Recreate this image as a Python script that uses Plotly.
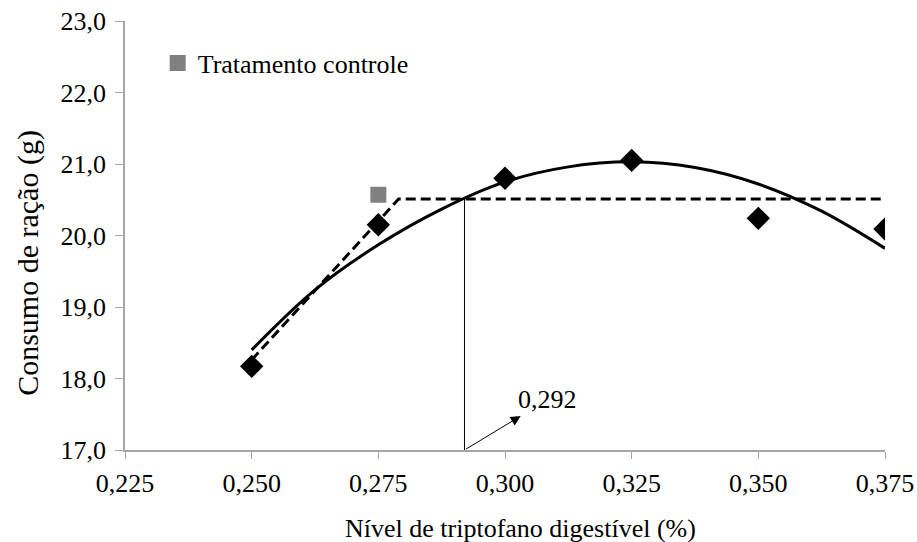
import plotly.graph_objects as go

# Observed means
x_obs = [0.250, 0.275, 0.300, 0.325, 0.350, 0.375]
y_obs = [18.17, 20.15, 20.80, 21.05, 20.24, 20.09]

# Control treatment
x_ctrl = [0.275]
y_ctrl = [20.57]

# Quadratic fit curve
x_quad = [0.250, 0.2625, 0.275, 0.2875, 0.300, 0.3125, 0.325, 0.3375, 0.350, 0.3625, 0.375]
y_quad = [18.40, 19.24, 19.87, 20.37, 20.75, 20.96, 21.03, 20.95, 20.72, 20.34, 19.82]

# Linear-plateau model
x_lrp = [0.250, 0.279, 0.375]
y_lrp = [18.26, 20.51, 20.51]

# Break point
x_break = 0.292
y_plateau = 20.51
break_label = "0,292"

x_ticks = [0.225, 0.250, 0.275, 0.300, 0.325, 0.350, 0.375]
x_ticklabels = ["0,225", "0,250", "0,275", "0,300", "0,325", "0,350", "0,375"]
y_ticks = [17, 18, 19, 20, 21, 22, 23]
y_ticklabels = ["17,0", "18,0", "19,0", "20,0", "21,0", "22,0", "23,0"]

x_title = "Nível de triptofano digestível (%)"
y_title = "Consumo de ração (g)"

FONT = "Liberation Serif"
FS = 26

fig = go.Figure()

fig.add_trace(go.Scatter(x=x_quad, y=y_quad, mode="lines", line=dict(color="black", width=3, shape="spline"),
                         showlegend=False, hoverinfo="skip"))
fig.add_trace(go.Scatter(x=x_lrp, y=y_lrp, mode="lines", line=dict(color="black", width=3, dash="10px,5px"),
                         showlegend=False, hoverinfo="skip"))
fig.add_trace(go.Scatter(x=[x_break, x_break], y=[17, y_plateau], mode="lines",
                         line=dict(color="black", width=1), showlegend=False, hoverinfo="skip"))
fig.add_trace(go.Scatter(x=x_obs, y=y_obs, mode="markers",
                         marker=dict(symbol="diamond", size=18, color="black"), showlegend=False))
fig.add_trace(go.Scatter(x=x_ctrl, y=y_ctrl, mode="markers", name="Tratamento controle",
                         marker=dict(symbol="square", size=16, color="#808080")))

fig.add_annotation(x=0.3031, y=17.475, ax=x_break, ay=17, xref="x", yref="y", axref="x", ayref="y",
                   showarrow=True, arrowhead=2, arrowsize=2, arrowwidth=1, arrowcolor="black", text="")
fig.add_annotation(x=0.3022, y=17.70, xref="x", yref="y", text=break_label, showarrow=False,
                   xanchor="left", yanchor="middle", font=dict(family=FONT, size=FS, color="black"))

# axis titles
fig.add_annotation(x=0.521, y=-0.184, xref="paper", yref="paper", text=x_title, showarrow=False,
                   xanchor="center", yanchor="middle", font=dict(family=FONT, size=FS, color="black"))
fig.add_annotation(x=-0.1285, y=0.437, xref="paper", yref="paper", text=y_title, showarrow=False,
                   textangle=-90, xanchor="center", yanchor="middle",
                   font=dict(family=FONT, size=30, color="black"))

fig.update_layout(
    width=917, height=542,
    margin=dict(l=125, r=32, t=21, b=92),
    plot_bgcolor="white", paper_bgcolor="white",
    font=dict(family=FONT, size=FS, color="black"),
    legend=dict(x=0.043, y=0.902, xanchor="left", yanchor="middle", bgcolor="rgba(0,0,0,0)",
                font=dict(family=FONT, size=FS), itemwidth=30),
    xaxis=dict(range=[0.225, 0.375], tickvals=x_ticks, ticktext=x_ticklabels, showgrid=False,
               zeroline=False, showline=True, linecolor="#a6a6a6", linewidth=1.5,
               ticks="outside", ticklen=7, tickcolor="#a6a6a6", ticklabeloverflow="allow",
               ticklabelstandoff=2, automargin=False,
               tickfont=dict(family=FONT, size=FS)),
    yaxis=dict(range=[17, 23], tickvals=y_ticks, ticktext=y_ticklabels, showgrid=False,
               zeroline=False, showline=True, linecolor="#a6a6a6", linewidth=1.5,
               ticks="outside", ticklen=8, tickcolor="#a6a6a6", ticklabeloverflow="allow",
               ticklabelstandoff=4, automargin=False,
               tickfont=dict(family=FONT, size=FS)),
)

fig.write_html("out.html", config={"displayModeBar": False},
               post_script="document.body.style.margin='0';document.body.style.overflow='hidden';")
